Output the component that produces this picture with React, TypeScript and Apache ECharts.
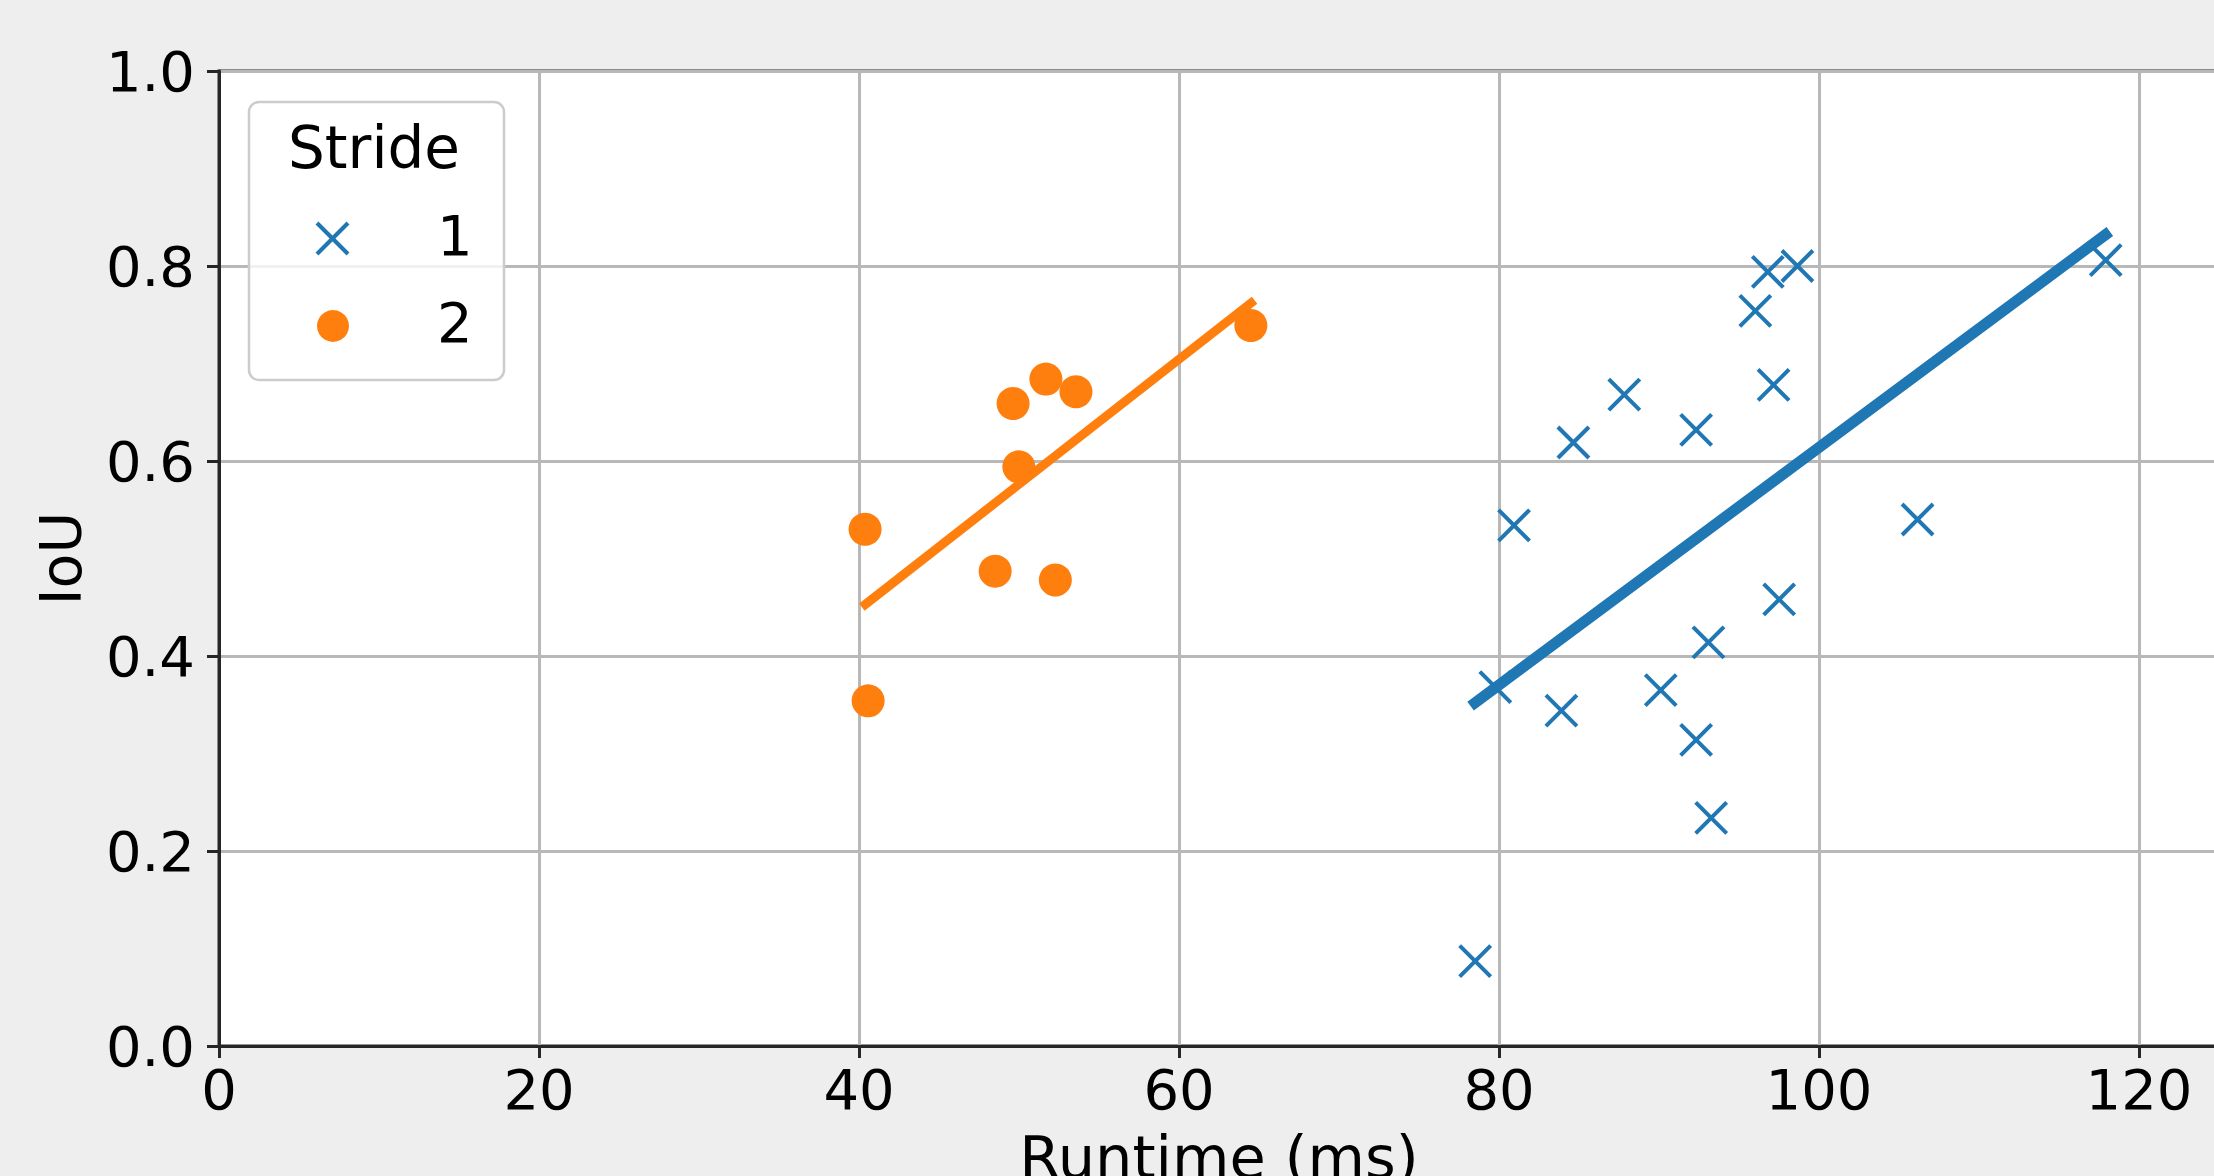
import React, { useEffect, useRef } from "react";
import * as echarts from "echarts";

// ---- Data ----
const stride1Runtime = [78.51, 79.77, 80.94, 83.9, 84.65, 87.83, 90.11, 92.32, 92.32, 93.09, 93.26, 96.02, 96.8, 98.65, 97.16, 97.51, 106.16, 117.92];
const stride1IoU = [0.087, 0.368, 0.534, 0.344, 0.619, 0.668, 0.365, 0.632, 0.314, 0.414, 0.234, 0.754, 0.794, 0.8, 0.678, 0.458, 0.54, 0.806];

const stride2Runtime = [40.38, 40.57, 48.51, 49.63, 51.68, 53.56, 49.99, 52.27, 64.49];
const stride2IoU = [0.53, 0.354, 0.487, 0.659, 0.684, 0.671, 0.594, 0.478, 0.739];

// fitted trend lines (end points)
const fit1Runtime = [78.5, 117.9];
const fit1IoU = [0.352, 0.832];
const fit2Runtime = [40.4, 64.5];
const fit2IoU = [0.453, 0.762];

const xTickLabels = ["0", "20", "40", "60", "80", "100", "120"];
const yTickLabels = ["0.0", "0.2", "0.4", "0.6", "0.8", "1.0"];

const legendTitle = "Stride";
const legendLabels = ["1", "2"];

const BLUE = "#1f77b4";
const ORANGE = "#ff7f0e";
const FONT = "DejaVu Sans";
const FS = 56;

const pairs = (xs: number[], ys: number[]) => xs.map((x, i) => [x, ys[i]]);

export default function App() {
  const ref = useRef<HTMLDivElement>(null);

  useEffect(() => {
    document.body.style.background = "#eeeeee";
    document.body.style.overflow = "hidden";
    const chart = echarts.init(ref.current!, null, { renderer: "svg" });
    const xMarker = "path://M0,0L10,10M10,0L0,10";
    chart.setOption({
      animation: false,
      backgroundColor: "#eeeeee",
      textStyle: { fontFamily: FONT },
      grid: {
        left: 219,
        top: 71,
        width: 2000,
        height: 975,
        outerBoundsMode: "none",
        containLabel: false,
        show: true,
        backgroundColor: "#ffffff",
        borderColor: "#262626",
        borderWidth: 3,
      },
      xAxis: {
        type: "value",
        min: 0,
        max: 125,
        interval: 20,
        name: "Runtime (ms)",
        nameLocation: "middle",
        nameGap: 82,
        nameTextStyle: { fontSize: 59, color: "#000", fontFamily: FONT },
        axisLine: { show: true, onZero: false, lineStyle: { color: "#262626", width: 3 } },
        axisTick: { show: true, length: 12, lineStyle: { color: "#262626", width: 3 } },
        axisLabel: {
          fontSize: FS,
          color: "#000",
          fontFamily: FONT,
          margin: 15,
          showMaxLabel: false,
          formatter: (v: number) => (xTickLabels.includes(String(v)) ? String(v) : ""),
        },
        splitLine: { show: true, lineStyle: { color: "#b8b8b8", width: 3 } },
      },
      yAxis: {
        type: "value",
        min: 0,
        max: 1,
        interval: 0.2,
        name: "IoU",
        nameLocation: "middle",
        nameRotate: 90,
        nameGap: 130,
        nameTextStyle: { fontSize: 57, color: "#000", fontFamily: FONT },
        axisLine: { show: true, onZero: false, lineStyle: { color: "#262626", width: 3 } },
        axisTick: { show: true, length: 12, lineStyle: { color: "#262626", width: 3 } },
        axisLabel: {
          fontSize: FS,
          color: "#000",
          fontFamily: FONT,
          margin: 24,
          formatter: (v: number) => yTickLabels[Math.round(v / 0.2)] ?? "",
        },
        splitLine: { show: true, lineStyle: { color: "#b8b8b8", width: 3 } },
      },
      series: [
        {
          name: legendLabels[0],
          type: "scatter",
          data: pairs(stride1Runtime, stride1IoU),
          symbol: xMarker,
          symbolSize: 31,
          itemStyle: { color: BLUE, borderColor: BLUE, borderWidth: 4, opacity: 1 },
          z: 2,
        },
        {
          name: legendLabels[1],
          type: "scatter",
          data: pairs(stride2Runtime, stride2IoU),
          symbol: "circle",
          symbolSize: 33,
          itemStyle: { color: ORANGE, opacity: 1 },
          z: 2,
        },
        {
          name: "fit1",
          type: "line",
          data: pairs(fit1Runtime, fit1IoU),
          showSymbol: false,
          symbol: "none",
          lineStyle: { color: BLUE, width: 11, cap: "square" },
          z: 3,
        },
        {
          name: "fit2",
          type: "line",
          data: pairs(fit2Runtime, fit2IoU),
          showSymbol: false,
          symbol: "none",
          lineStyle: { color: ORANGE, width: 9, cap: "square" },
          z: 3,
        },
      ],
      graphic: [
        {
          type: "rect",
          shape: { x: 249, y: 102, width: 255, height: 278, r: 10 },
          style: { fill: "rgba(255,255,255,0.8)", stroke: "#cccccc", lineWidth: 2.5 },
          z: 10,
        },
        {
          type: "text",
          x: 374,
          y: 148,
          style: { text: legendTitle, fontSize: 58, fontFamily: FONT, fill: "#000", align: "center", verticalAlign: "middle" },
          z: 11,
        },
        {
          type: "line",
          shape: { x1: 317, y1: 223, x2: 348, y2: 254 },
          style: { stroke: BLUE, lineWidth: 4 },
          z: 11,
        },
        {
          type: "line",
          shape: { x1: 317, y1: 254, x2: 348, y2: 223 },
          style: { stroke: BLUE, lineWidth: 4 },
          z: 11,
        },
        {
          type: "circle",
          shape: { cx: 333, cy: 326, r: 16 },
          style: { fill: ORANGE },
          z: 11,
        },
        {
          type: "text",
          x: 437,
          y: 235,
          style: { text: legendLabels[0], fontSize: FS, fontFamily: FONT, fill: "#000", align: "left", verticalAlign: "middle" },
          z: 11,
        },
        {
          type: "text",
          x: 437,
          y: 322,
          style: { text: legendLabels[1], fontSize: FS, fontFamily: FONT, fill: "#000", align: "left", verticalAlign: "middle" },
          z: 11,
        },
      ],
    });
    return () => chart.dispose();
  }, []);

  return (
    <div
      ref={ref}
      style={{ position: "fixed", left: 0, top: 0, width: 2300, height: 1176 }}
    />
  );
}
